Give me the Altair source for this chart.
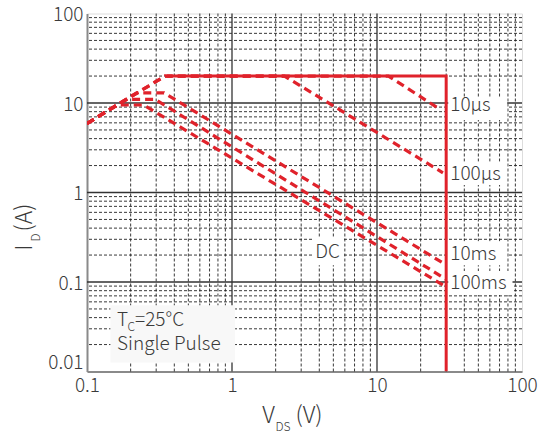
import altair as alt
import pandas as pd

# ---------------- data ----------------
x_major = [0.1, 1, 10, 100]
y_major = [0.01, 0.1, 1, 10, 100]
x_grid_major = [1, 10]
y_grid_major = [0.1, 1, 10]
x_grid_minor = [0.2, 0.3, 0.4, 0.5, 0.6, 0.7, 0.8, 0.9,
                2, 3, 4, 5, 6, 7, 8, 9,
                20, 30, 40, 50, 60, 70, 80, 90]
y_grid_minor = [0.02, 0.03, 0.04, 0.05, 0.06, 0.07, 0.08, 0.09,
                0.2, 0.3, 0.4, 0.5, 0.6, 0.7, 0.8, 0.9,
                2, 3, 4, 5, 6, 7, 8, 9,
                20, 30, 40, 50, 60, 70, 80, 90]

# SOA boundary (solid)
limit_v = [0.356, 30, 30]
limit_i = [20, 20, 0.01]

# pulse curves (dashed)
us10_v = [0.1, 0.345, 12.0, 26.6]
us10_i = [5.9, 20, 20, 8.7]
us100_v = [0.1, 0.345, 2.3, 28.5]
us100_i = [5.9, 20, 20, 1.66]
ms10_v = [0.1, 0.22, 0.34, 30]
ms10_i = [5.9, 13, 13, 0.155]
ms100_v = [0.1, 0.186, 0.295, 30]
ms100_i = [5.9, 11, 11, 0.107]
dc_v = [0.1, 0.161, 0.246, 30]
dc_i = [5.9, 9.5, 9.5, 0.088]

# curve labels
label_text = ["10μs", "100μs", "10ms", "100ms", "DC"]
label_v = [32, 32, 32, 32, 3.75]
label_i = [9.47, 1.63, 0.208, 0.0975, 0.217]

# white boxes behind labels
box_v1 = [31, 31, 31, 31, 3.64, 0.145]
box_v2 = [79, 79, 79, 86, 5.86, 1.05]
box_i1 = [11.7, 2.2, 0.285, 0.133, 0.319, 0.055]
box_i2 = [6.44, 1.21, 0.154, 0.0716, 0.154, 0.0126]
box_fill = ["#ffffff", "#ffffff", "#ffffff", "#ffffff", "#ffffff", "#f8f8f8"]

# condition note
note_v = 0.161
note_i = [0.0373, 0.0205]

# ---------------- build ----------------
RED = "#e0222b"
TXT = "#3a3a3a"
FONT = "Noto Sans CJK JP"
FW = 300

xs = alt.Scale(type="log", domain=[0.1, 100], nice=False)
ys = alt.Scale(type="log", domain=[0.01, 100], nice=False)

rows = []
for name, vv, ii in [("10us", us10_v, us10_i), ("100us", us100_v, us100_i),
                     ("10ms", ms10_v, ms10_i), ("100ms", ms100_v, ms100_i),
                     ("DC", dc_v, dc_i)]:
    for k, (a, b) in enumerate(zip(vv, ii)):
        rows.append({"series": name, "k": k, "v": a, "i": b})
curves = pd.DataFrame(rows)
limit = pd.DataFrame({"k": range(len(limit_v)), "v": limit_v, "i": limit_i})

axis_x = alt.Axis(values=x_major, format="~g", grid=False, ticks=False,
                  domainColor="#8a8a8a", domainWidth=2, labelFont=FONT,
                  labelFontWeight=FW,
                  labelFontSize=19, labelColor=TXT, labelPadding=5,
                  title=None, labelFlush=False)
axis_y = alt.Axis(values=y_major, format="~g", grid=False, ticks=False,
                  domainColor="#8a8a8a", domainWidth=2, labelFont=FONT,
                  labelFontWeight=FW,
                  labelFontSize=19, labelColor=TXT, labelPadding=4,
                  labelOffset=alt.condition("datum.value < 0.011", alt.value(-9), alt.value(1)),
                  title=None, labelFlush=False)

base_axes = alt.Chart(pd.DataFrame({"v": [0.1], "i": [0.01]})).mark_point(opacity=0).encode(
    x=alt.X("v:Q", scale=xs, axis=axis_x),
    y=alt.Y("i:Q", scale=ys, axis=axis_y),
)

vminor = alt.Chart(pd.DataFrame({"v": x_grid_minor})).mark_rule(
    color="#222", strokeWidth=0.9, strokeDash=[3, 2]).encode(
    x=alt.X("v:Q", scale=xs))
hminor = alt.Chart(pd.DataFrame({"i": y_grid_minor})).mark_rule(
    color="#222", strokeWidth=0.9, strokeDash=[3, 2]).encode(
    y=alt.Y("i:Q", scale=ys))
vmajor = alt.Chart(pd.DataFrame({"v": x_grid_major})).mark_rule(
    color="#333", strokeWidth=1.3).encode(x=alt.X("v:Q", scale=xs))
hmajor = alt.Chart(pd.DataFrame({"i": y_grid_major})).mark_rule(
    color="#333", strokeWidth=1.3).encode(y=alt.Y("i:Q", scale=ys))

boxes = alt.Chart(pd.DataFrame({"v1": box_v1, "v2": box_v2, "i1": box_i1,
                                "i2": box_i2, "fill": box_fill})).mark_rect().encode(
    x=alt.X("v1:Q", scale=xs), x2="v2:Q",
    y=alt.Y("i1:Q", scale=ys), y2="i2:Q",
    color=alt.Color("fill:N", scale=None),
)

dashed = alt.Chart(curves).mark_line(
    color=RED, strokeWidth=3.2, strokeDash=[8, 5], clip=True).encode(
    x=alt.X("v:Q", scale=xs), y=alt.Y("i:Q", scale=ys),
    detail="series:N", order="k:Q")

solid = alt.Chart(limit).mark_line(color=RED, strokeWidth=3, clip=True).encode(
    x=alt.X("v:Q", scale=xs), y=alt.Y("i:Q", scale=ys), order="k:Q")

labels = alt.Chart(pd.DataFrame({"t": label_text, "v": label_v, "i": label_i})).mark_text(
    align="left", baseline="middle", font=FONT, fontWeight=FW, fontSize=19, color=TXT).encode(
    x=alt.X("v:Q", scale=xs), y=alt.Y("i:Q", scale=ys), text="t:N")

note_df = pd.DataFrame({"v": [note_v], "i": [note_i[0]]})
note_T = alt.Chart(note_df).mark_text(align="left", baseline="middle", font=FONT, fontWeight=FW,
                                      fontSize=19, color=TXT, text="T").encode(
    x=alt.X("v:Q", scale=xs), y=alt.Y("i:Q", scale=ys))
note_C = alt.Chart(note_df).mark_text(align="left", baseline="middle", font=FONT, fontWeight=FW,
                                      fontSize=12, color=TXT, text="C", dx=10.5, dy=7).encode(
    x=alt.X("v:Q", scale=xs), y=alt.Y("i:Q", scale=ys))
note_rest = alt.Chart(note_df).mark_text(align="left", baseline="middle", font=FONT, fontWeight=FW,
                                         fontSize=19, color=TXT, text="=25°C", dx=18).encode(
    x=alt.X("v:Q", scale=xs), y=alt.Y("i:Q", scale=ys))
note2 = alt.Chart(pd.DataFrame({"v": [note_v], "i": [note_i[1]]})).mark_text(
    align="left", baseline="middle", font=FONT, fontWeight=FW, fontSize=19, color=TXT,
    text="Single Pulse").encode(x=alt.X("v:Q", scale=xs), y=alt.Y("i:Q", scale=ys))

# axis titles with subscripts
def ttl(txt, px, py, size, angle=0):
    kw = dict(align="center", baseline="middle", font=FONT, fontWeight=FW, fontSize=size,
              color=TXT, text=txt)
    if angle:
        kw["angle"] = angle
    return alt.Chart(pd.DataFrame({"a": [0]})).mark_text(**kw).encode(
        x=alt.value(px), y=alt.value(py))

xt = ttl("V", 181.5, 402, 23) + ttl("DS", 196, 413, 12) + ttl("(V)", 222, 402, 23)
yt = ttl("I", -62, 234, 23, 270) + ttl("D", -51, 224, 12, 270) + ttl("(A)", -62, 204, 23, 270)

chart = alt.layer(
    vminor, hminor, vmajor, hmajor, boxes, base_axes, dashed, solid, labels,
    note_T, note_C, note_rest, note2, xt, yt
).properties(
    width=435, height=358,
    autosize=alt.AutoSizeParams(type="none"),
    padding={"left": 87, "top": 13.5, "right": 27, "bottom": 61.5},
).configure_view(stroke="#444", strokeWidth=1.5).configure(background="white")

chart.save("out.html", embed_options={"renderer": "svg", "actions": False})
